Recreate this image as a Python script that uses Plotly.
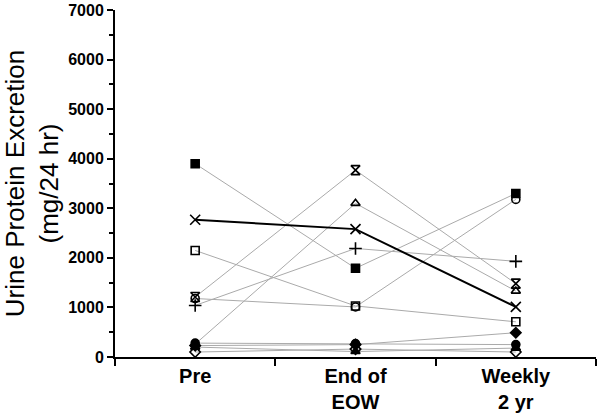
import plotly.graph_objects as go

categories = ["Pre", "End of<br>EOW", "Weekly<br>2 yr"]

filled_square = [3900, 1790, 3300]
x_mark = [2770, 2580, 1010]
open_square = [2150, 1030, 710]
star = [1210, 3770, 1480]
plus = [1040, 2190, 1930]
open_triangle = [260, 3100, 1330]
open_circle = [1180, 1010, 3180]
filled_diamond = [230, 250, 490]
filled_circle = [280, 270, 250]
filled_triangle = [200, 110, 180]
open_diamond = [100, 160, 100]

y_max = 7000
y_step = 1000

series = [
    ("filled_square", filled_square, "square", 8, "#aaaaaa", 1),
    ("open_square", open_square, "square-open", 8, "#aaaaaa", 1),
    ("star", star, "hourglass-open", 9, "#aaaaaa", 1),
    ("plus", plus, "cross-thin-open", 9, "#aaaaaa", 1),
    ("open_triangle", open_triangle, "triangle-up-open", 8, "#aaaaaa", 1),
    ("open_circle", open_circle, "circle-open", 8, "#aaaaaa", 1),
    ("filled_diamond", filled_diamond, "diamond", 8, "#aaaaaa", 1),
    ("filled_circle", filled_circle, "circle", 8, "#aaaaaa", 1),
    ("filled_triangle", filled_triangle, "triangle-up", 8, "#aaaaaa", 1),
    ("open_diamond", open_diamond, "diamond-open", 8, "#aaaaaa", 1),
    ("x_mark", x_mark, "x-thin-open", 10, "#000000", 2),
]

fig = go.Figure()
for name, vals, sym, size, col, lw in series:
    fig.add_trace(go.Scatter(x=categories, y=vals, mode="lines",
                             line=dict(color=col, width=lw),
                             showlegend=False, hoverinfo="skip"))
for name, vals, sym, size, col, lw in series:
    fig.add_trace(go.Scatter(x=categories, y=vals, mode="markers", name=name,
                             marker=dict(symbol=sym, size=size, color="black",
                                         line=dict(color="black", width=1.6)),
                             showlegend=False))

fig.update_layout(
    width=600, height=418,
    margin=dict(l=115, r=4, t=10, b=61),
    paper_bgcolor="white", plot_bgcolor="white",
    font=dict(family="Liberation Sans, Arial, sans-serif", color="black"),
    xaxis=dict(type="category", range=[-0.5, 2.5], showline=True, automargin=False,
               linecolor="black", linewidth=2, ticks="outside",
               tickson="boundaries", ticklen=7, tickwidth=2, tickcolor="black",
               showgrid=False, zeroline=False,
               tickfont=dict(size=20, family="Liberation Sans, Arial", weight="bold")),
    yaxis=dict(range=[0, y_max + 1], tickmode="linear", tick0=0, dtick=y_step,
               automargin=False,
               showline=True, linecolor="black", linewidth=2, ticks="outside",
               ticklen=6, tickwidth=2, tickcolor="black",
               minor=dict(dtick=y_step / 2, ticks="outside", ticklen=4, tickwidth=2,
                          tickcolor="black"),
               showgrid=False, zeroline=False,
               tickfont=dict(size=16, family="Liberation Sans, Arial", weight="bold"),
               title=dict(text="Urine Protein Excretion<br>(mg/24 hr)",
                          font=dict(size=26, family="Liberation Sans, Arial"),
                          standoff=27)),
)

fig.write_html("out.html", config={"displayModeBar": False},
               post_script="document.body.style.margin='0';document.body.style.overflow='hidden';")
